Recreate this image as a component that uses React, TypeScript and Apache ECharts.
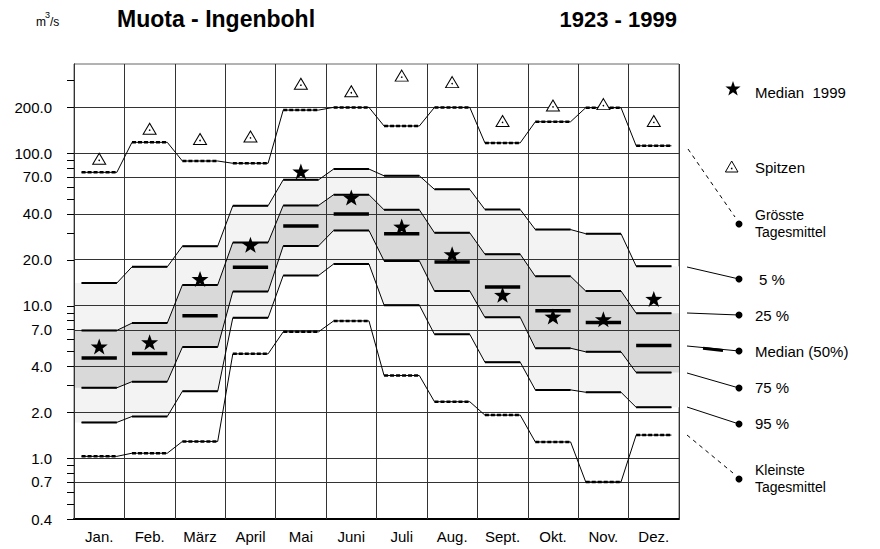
import React, { useEffect, useRef } from "react";
import * as echarts from "echarts";

// ---- data (m3/s) ----
const months = ["Jan.", "Feb.", "März", "April", "Mai", "Juni", "Juli", "Aug.", "Sept.", "Okt.", "Nov.", "Dez."];
const maxDaily = [75, 118, 89, 86, 192, 200, 151, 200, 117, 161, 199, 112];
const peaks = [92, 145, 124, 129, 286, 255, 323, 293, 163, 206, 210, 163];
const p5 = [14.1, 18.0, 24.6, 45.3, 67, 78.8, 71.2, 58, 42.8, 31.6, 29.7, 18.2];
const p25 = [6.9, 7.7, 13.7, 26.0, 45.5, 53.5, 42.6, 30.1, 21.8, 15.6, 12.5, 8.95];
const median = [4.55, 4.86, 8.6, 17.9, 33.3, 40, 29.7, 19.4, 13.3, 9.27, 7.77, 5.49];
const p75 = [2.9, 3.18, 5.36, 12.4, 24.7, 31.2, 19.7, 12.5, 8.4, 5.27, 4.99, 3.65];
const p95 = [1.72, 1.88, 2.75, 8.34, 15.8, 18.8, 10.1, 6.5, 4.27, 2.81, 2.71, 2.16];
const minDaily = [1.03, 1.08, 1.29, 4.84, 6.75, 7.96, 3.49, 2.35, 1.92, 1.28, 0.7, 1.42];
const median1999 = [5.41, 5.77, 15.0, 25.1, 76, 51.3, 33.1, 21.8, 11.8, 8.5, 8.17, 11.1];

const majorTicks = [0.4, 0.7, 1, 2, 4, 7, 10, 20, 40, 70, 100, 200];
const minorTicks = [0.5, 0.6, 0.8, 0.9, 3, 5, 6, 8, 9, 30, 50, 60, 80, 90, 300];
const Y_MIN = 0.4;
const Y_MAX = 385;

const T = (v: number) => Math.log10(v / Y_MIN);

const FONT = "Liberation Sans, Arial, Helvetica, sans-serif";

function stepPoints(vals: number[], extend: boolean) {
  const pts: any[] = [];
  const n = vals.length;
  vals.forEach((v, i) => {
    if (extend && i === 0) pts.push([0, T(v)]);
    pts.push([i + 0.15, T(v)], [i + 0.85, T(v)]);
    if (extend && i === n - 1) pts.push([n, T(v)]);
  });
  return pts;
}
function flatPoints(vals: number[]) {
  const pts: any[] = [];
  vals.forEach((v, i) => {
    if (i > 0) pts.push([i, "-"]);
    pts.push([i + 0.15, T(v)], [i + 0.85, T(v)]);
  });
  return pts;
}
const centerPoints = (vals: number[]) => vals.map((v, i) => [i + 0.5, T(v)]);

const starUnit: number[][] = [];
for (let k = 0; k < 10; k++) {
  const r = k % 2 === 0 ? 1 : 0.4;
  const a = -Math.PI / 2 + (k * Math.PI) / 5;
  starUnit.push([r * Math.cos(a), r * Math.sin(a)]);
}
const starPath =
  "path://M" + starUnit.map((p) => (p[0] * 10).toFixed(3) + " " + (p[1] * 10).toFixed(3)).join(" L") + " Z";

function thinLine(vals: number[]) {
  return {
    type: "line", data: stepPoints(vals, false), symbol: "none", z: 8, silent: true,
    lineStyle: { color: "#000", width: 1 },
  };
}
function flatLine(vals: number[], width: number, dashed?: boolean) {
  return {
    type: "line", data: flatPoints(vals), symbol: "none", z: 9, silent: true, connectNulls: false,
    lineStyle: { color: "#000", width, type: dashed ? [4, 2] : "solid" },
  };
}
function band(hi: number[], lo: number[], fill: string, z: number) {
  const upper = stepPoints(hi, true);
  const lower = stepPoints(lo, true).reverse();
  return {
    type: "custom", z, silent: true, clip: true,
    data: [[0, 0]],
    renderItem: (_params: any, api: any) => ({
      type: "polygon",
      shape: { points: [...upper, ...lower].map((p) => api.coord(p)) },
      style: { fill, stroke: "none" },
    }),
  };
}

export default function App() {
  const ref = useRef<HTMLDivElement>(null);
  useEffect(() => {
    if (!ref.current) return;
    const chart = echarts.init(ref.current, null, { renderer: "svg" });

    const gridLines = [
      ...majorTicks.filter((v) => v > Y_MIN).map((v) => ({ yAxis: T(v) })),
      ...Array.from({ length: months.length + 1 }, (_, i) => ({ xAxis: i })),
    ];

    const txt = (x: number, y: number, text: string, size = 15, extra: any = {}) => ({
      type: "text", x, y, z: 100,
      style: { text, fill: "#000", font: `${size}px ${FONT}`, textVerticalAlign: "middle", textAlign: "left", ...extra },
    });
    const dot = (x: number, y: number) => ({ type: "circle", z: 100, shape: { cx: x, cy: y, r: 3.5 }, style: { fill: "#000" } });
    const seg = (x1: number, y1: number, x2: number, y2: number, dash?: boolean, w = 1) => ({
      type: "line", z: 100, shape: { x1, y1, x2, y2 },
      style: { stroke: "#000", lineWidth: w, lineDash: dash ? [4, 4] : null },
    });

    const option: any = {
      animation: false,
      textStyle: { fontFamily: FONT },
      grid: { left: 74, right: 201, top: 64, bottom: 30, show: true, borderColor: "#666", borderWidth: 1, backgroundColor: "transparent" },
      xAxis: [
        {
          type: "value", min: 0, max: 12, interval: 1,
          axisLine: { show: true, onZero: false, lineStyle: { color: "#000", width: 2 } },
          axisTick: { show: false }, axisLabel: { show: false }, splitLine: { show: false },
        },
        {
          type: "category", data: months, position: "bottom", boundaryGap: true,
          axisLine: { show: false }, axisTick: { show: false }, splitLine: { show: false },
          axisLabel: { color: "#000", fontSize: 15, margin: 10, fontFamily: FONT, interval: 0 },
        },
      ],
      yAxis: {
        type: "value", min: 0, max: T(Y_MAX),
        axisLine: { show: true, lineStyle: { color: "#000", width: 1 } },
        axisTick: {
          show: true, inside: false, length: 7,
          customValues: [...majorTicks, ...minorTicks].map(T),
          lineStyle: { color: "#000", width: 1 },
        },
        axisLabel: {
          customValues: majorTicks.map(T),
          color: "#000", fontSize: 15, margin: 22, fontFamily: FONT,
          formatter: (val: number) => {
            let best = majorTicks[0];
            majorTicks.forEach((m) => { if (Math.abs(T(m) - val) < Math.abs(T(best) - val)) best = m; });
            return best.toFixed(1);
          },
        },
        splitLine: { show: false },
      },
      series: [
        band(p5, p95, "#f3f3f3", 1),
        band(p25, p75, "#d9d9d9", 2),
        {
          type: "line", data: stepPoints(p95, true), symbol: "none", z: 3, silent: true,
          lineStyle: { width: 0, opacity: 0 },
          markLine: {
            silent: true, symbol: ["none", "none"], label: { show: false }, z: 5,
            lineStyle: { color: "#333", width: 1, type: "solid" },
            emphasis: { disabled: true },
            data: gridLines,
          },
        },
        thinLine(p5), thinLine(p25), thinLine(p75), thinLine(p95),
        flatLine(p5, 2), flatLine(p25, 2), flatLine(p75, 2), flatLine(p95, 2),
        flatLine(median, 3.5),
        thinLine(maxDaily), flatLine(maxDaily, 2.5, true),
        thinLine(minDaily), flatLine(minDaily, 2.5, true),
        {
          type: "scatter", data: centerPoints(peaks), symbol: "triangle", symbolSize: [13, 11], z: 10, silent: true,
          itemStyle: { color: "#fff", borderColor: "#000", borderWidth: 1, opacity: 1 },
        },
        {
          type: "scatter", data: centerPoints(peaks), symbol: "circle", symbolSize: 1.6, symbolOffset: [0, 1.5], z: 11, silent: true,
          itemStyle: { color: "#000", opacity: 1 },
        },
        {
          type: "scatter", data: centerPoints(median1999), symbol: starPath, symbolSize: [17, 16], z: 12, silent: true,
          itemStyle: { color: "#000", opacity: 1 },
        },
      ],
      graphic: [
        txt(36, 22, "m", 12),
        txt(45, 15, "3", 9),
        txt(50, 22, "/s", 12),
        txt(117, 19, "Muota - Ingenbohl", 23, { font: `bold 23px ${FONT}` }),
        txt(677, 19, "1923 - 1999", 22, { font: `bold 22px ${FONT}`, textAlign: "right" }),
        // legend
        { type: "polygon", z: 100, shape: { points: starUnit.map((p) => [733 + 8 * p[0], 89 + 8 * p[1]]) }, style: { fill: "#000" } },
        txt(755, 92, "Median  1999"),
        { type: "polygon", z: 100, shape: { points: [[731.7, 161], [738, 172], [725.4, 172]] }, style: { fill: "#fff", stroke: "#000", lineWidth: 1 } },
        { type: "circle", z: 101, shape: { cx: 731.7, cy: 168.5, r: 0.8 }, style: { fill: "#000" } },
        txt(755, 167, "Spitzen"),
        seg(688, 149, 735, 217, true), dot(739, 224),
        txt(755, 214.5, "Grösste", 14), txt(755, 231.5, "Tagesmittel", 14),
        seg(687, 267, 739, 279), dot(739, 279), txt(759, 279, "5 %"),
        seg(687, 313, 739, 315), dot(739, 315), txt(755, 315, "25 %"),
        seg(687, 346, 739, 351), seg(703, 348.3, 723, 350.5, false, 3), dot(739, 351), txt(755, 351, "Median (50%)"),
        seg(687, 373, 739, 388), dot(739, 388), txt(755, 387, "75 %"),
        seg(687, 407, 739, 424), dot(739, 424), txt(755, 423, "95 %"),
        seg(687, 435, 733, 473, true), dot(739, 479),
        txt(755, 469.5, "Kleinste", 14), txt(755, 486.5, "Tagesmittel", 14),
      ],
    };
    chart.setOption(option);
    return () => chart.dispose();
  }, []);
  return <div ref={ref} style={{ position: "absolute", left: 0, top: 0, width: 880, height: 549, background: "#fff" }} />;
}
